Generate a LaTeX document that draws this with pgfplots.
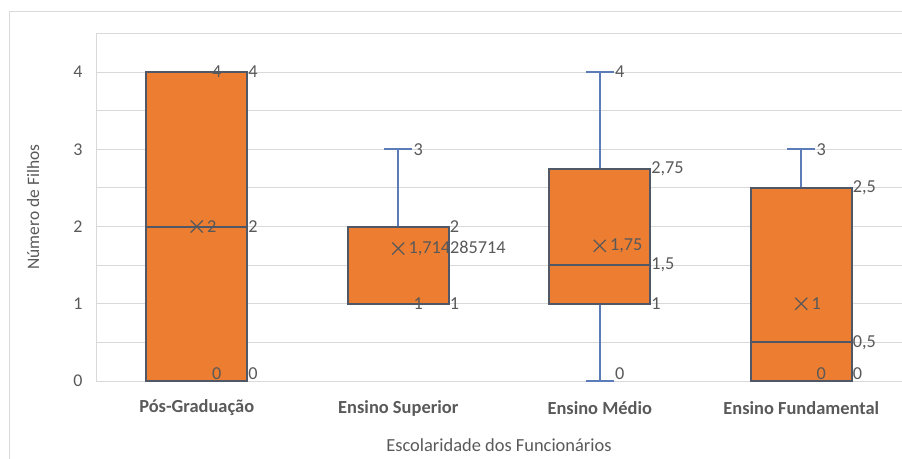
\documentclass[border=0pt]{standalone}
\usepackage{pgfplots}
\pgfplotsset{compat=1.18}
\usepackage{pgfplotstable}
\usepgfplotslibrary{statistics}
\usepackage{fontspec}
\setmainfont{Carlito}
\definecolor{boxfill}{HTML}{ED7D31}
\definecolor{boxline}{HTML}{505868}
\definecolor{whisk}{HTML}{5B7CB8}
\definecolor{txt}{HTML}{595959}
\definecolor{gridc}{HTML}{D9D9D9}

\pgfplotstableread{
x y label
0.07 4 4
0.25 4 4
0.25 2 2
0.045 2 2
0.07 0.1 0
0.25 0.1 0
1.07 3 3
1.25 2 2
1.045 1.714285714 1,714285714
1.07 1 1
1.25 1 1
2.07 4 4
2.25 2.75 2,75
2.045 1.75 1,75
2.25 1.5 1,5
2.25 1 1
2.07 0.1 0
3.07 3 3
3.25 2.5 2,5
3.045 1 1
3.25 0.5 0,5
3.07 0.1 0
3.25 0.1 0
}\labels

\pgfplotstableread{
x y
0 2
1 1.714285714
2 1.75
3 1
}\means

\begin{document}
\begin{tikzpicture}
\begin{axis}[
  name=ax,
  scale only axis,
  width=806bp, height=347.6bp,
  xmin=-0.5, xmax=3.5, ymin=0, ymax=4.5,
  xtick={0,1,2,3},
  xticklabels={Pós-Graduação, Ensino Superior, Ensino Médio, Ensino Fundamental},
  ytick={0,1,2,3,4},
  minor ytick={0.5,1.5,2.5,3.5,4.5},
  grid=both,
  major grid style={gridc, line width=0.9bp},
  minor grid style={gridc, line width=0.9bp},
  axis line style={gridc, line width=0.9bp},
  major tick length=0pt, minor tick length=0pt,
  tick style={draw=none},
  xmajorgrids=false, xminorgrids=false,
  /pgf/number format/assume math mode=true,
  xticklabel style={font=\fontsize{18.5}{22}\selectfont\bfseries, text=txt, anchor=center, yshift=-27bp},
  yticklabel style={font=\fontsize{18}{21}\selectfont, text=txt, xshift=-10bp},
  xlabel={Escolaridade dos Funcionários},
  ylabel={Número de Filhos},
  every axis x label/.style={at={(axis description cs:0.5,-0.184)}, anchor=center, font=\fontsize{18.5}{22}\selectfont, text=txt},
  every axis y label/.style={at={(axis description cs:-0.078,0.5)}, anchor=center, rotate=90, font=\fontsize{17.5}{21}\selectfont, text=txt},
  boxplot/draw direction=y,
  boxplot/box extend=0.5,
  boxplot/whisker extend=0.14,
  boxplot/every box/.style={fill=boxfill, draw=boxline, line width=2bp},
  boxplot/every whisker/.style={draw=whisk, line width=1.8bp},
  boxplot/every median/.style={draw=boxline, line width=2bp},
  clip=false,
]
\addplot[boxplot prepared={draw position=0, lower whisker=0, lower quartile=0, median=2, upper quartile=4, upper whisker=4}, draw=boxline] coordinates {};
\addplot[boxplot prepared={draw position=1, lower whisker=1, lower quartile=1, median=2, upper quartile=2, upper whisker=3}, draw=boxline] coordinates {};
\addplot[boxplot prepared={draw position=2, lower whisker=0, lower quartile=1, median=1.5, upper quartile=2.75, upper whisker=4}, draw=boxline] coordinates {};
\addplot[boxplot prepared={draw position=3, lower whisker=0, lower quartile=0, median=0.5, upper quartile=2.5, upper whisker=3}, draw=boxline] coordinates {};
\addplot[only marks, mark=x, mark size=8.5bp, mark options={draw=txt, line width=1.3bp}] table[x=x, y=y] {\means};
\addplot[draw=none, mark=none, nodes near coords, point meta=explicit symbolic,
  every node near coord/.append style={anchor=west, inner sep=1bp, font=\fontsize{18.3}{21}\selectfont, text=txt}]
  table[x=x, y=y, meta=label] {\labels};
\end{axis}
\draw[gridc, line width=0.9bp] ([shift={(-87bp,-80bp)}]ax.south west) -- ([shift={(-87bp,22.4bp)}]ax.north west) -- ([shift={(0bp,22.4bp)}]ax.north east);
\pgfresetboundingbox
\path[use as bounding box] ([shift={(-96bp,-78bp)}]ax.south west) rectangle ([shift={(0bp,33.4bp)}]ax.north east);
\end{tikzpicture}
\end{document}
